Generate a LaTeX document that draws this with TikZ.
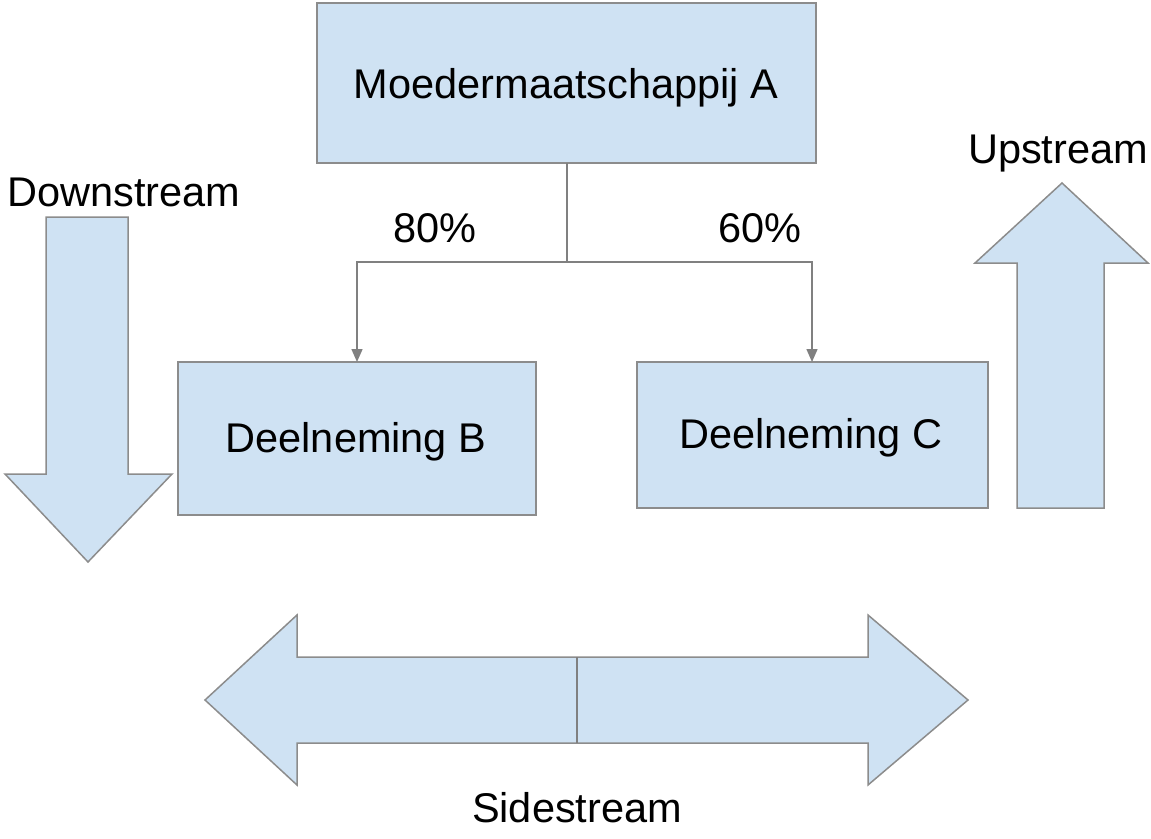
\documentclass[tikz,border=0pt]{standalone}
\usepackage{fontspec}
\setmainfont{Liberation Sans}
\usetikzlibrary{arrows.meta}
\definecolor{boxfill}{HTML}{CFE2F3}
\definecolor{boxline}{HTML}{8C8C8C}
\definecolor{conn}{HTML}{808080}
\begin{document}
\begin{tikzpicture}[x=1pt,y=-1pt,
  box/.style={draw=boxline,fill=boxfill,line width=1.5pt},
  bigarrow/.style={draw=boxline,fill=boxfill,line width=1.5pt,line join=miter},
  lbl/.style={font=\fontsize{41.5}{48}\selectfont,anchor=base,inner sep=0pt},
  link/.style={draw=conn,line width=1.5pt},
  tip/.style={-{Triangle[length=13pt,width=11pt]}}]
\useasboundingbox (0,0) rectangle (1151,838);
% boxes
\draw[box] (317,3) rectangle (816,163);
\node[lbl] (tA) at (566,98) {Moedermaatschappij A};
\coordinate (A) at (567,163);
\draw[box] (178,362) rectangle (536,515);
\node[lbl] (tB) at (356,452) {Deelneming B};
\draw[box] (637,362) rectangle (988,508);
\node[lbl] (tC) at (811,448) {Deelneming C};
\coordinate (B) at (357,362);
\coordinate (C) at (812,362);
\coordinate (J) at (567,262);
% connectors
\draw[link] (A) -- (J);
\draw[link,tip] (J) -| (B);
\draw[link,tip] (J) -| (C);
\node[lbl] (p80) at (435,242) {80\%};
\node[lbl] (p60) at (760,242) {60\%};
% downstream arrow
\draw[bigarrow] (46,217) -- (128,217) -- (128,474) -- (172,474) -- (88,562) -- (5,474) -- (46,474) -- cycle;
\node[lbl] (down) at (124,206) {Downstream};
% upstream arrow
\draw[bigarrow] (1017,508) -- (1104,508) -- (1104,263) -- (1148,263) -- (1062,183) -- (975,263) -- (1017,263) -- cycle;
\node[lbl] (up) at (1058,163) {Upstream};
% sidestream double arrow
\draw[bigarrow] (205,700) -- (297,615) -- (297,657) -- (868,657) -- (868,615) -- (968,700) -- (868,785) -- (868,743) -- (297,743) -- (297,785) -- cycle;
\draw[link] (577,657) -- (577,743);
\node[lbl] (side) at (577,822) {Sidestream};
\end{tikzpicture}
\end{document}
